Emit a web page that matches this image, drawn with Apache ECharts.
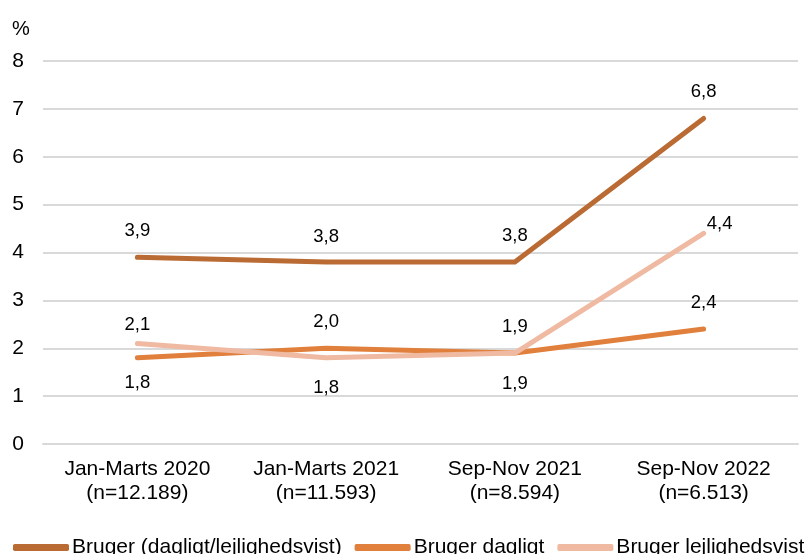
<!DOCTYPE html>
<html>
<head>
<meta charset="utf-8">
<script src="https://cdn.jsdelivr.net/npm/echarts@6/dist/echarts.min.js"></script>
<style>
  html, body { margin: 0; padding: 0; background: #fff; }
  #main { width: 812px; height: 554px; }
</style>
</head>
<body>
<div id="main"></div>
<script>
    var categories = ['Jan-Marts 2020\n(n=12.189)', 'Jan-Marts 2021\n(n=11.593)', 'Sep-Nov 2021\n(n=8.594)', 'Sep-Nov 2022\n(n=6.513)'];
    var seriesNames = ['Bruger (dagligt/lejlighedsvist)', 'Bruger dagligt', 'Bruger lejlighedsvist'];
    var brugerAlle = [3.9, 3.8, 3.8, 6.8];
    var brugerDagligt = [1.8, 2.0, 1.9, 2.4];
    var brugerLejlighedsvist = [2.1, 1.8, 1.9, 4.4];

    // label placering pr. punkt: [position, distance, offsetX]
    var placeAlle = [['top', 17, 0], ['top', 16, 0], ['top', 17, 0], ['top', 17, 0]];
    var placeDagligt = [['bottom', 16, 0], ['top', 17, 0], ['bottom', 21, 0], ['top', 17, 0]];
    var placeLejl = [['top', 9, 0], ['bottom', 21, 0], ['top', 17, 0], ['top', 0, 16]];

    function makeData(values, place) {
        var out = [];
        for (var i = 0; i < values.length; i++) {
            out.push({
                value: values[i],
                label: { position: place[i][0], distance: place[i][1], offset: [place[i][2], 0] }
            });
        }
        return out;
    }

    function makeSeries(name, values, place, color, z) {
        return {
            name: name,
            type: 'line',
            data: makeData(values, place),
            showSymbol: true,
            symbol: 'circle',
            symbolSize: 0.1,
            z: z,
            lineStyle: { color: color, width: 5, cap: 'round', join: 'round' },
            itemStyle: { color: color },
            label: {
                show: true,
                color: '#000',
                fontSize: 18.5,
                fontFamily: 'Liberation Sans, Arial, sans-serif',
                formatter: function (p) { return p.value.toFixed(1).replace('.', ','); }
            }
        };
    }

    var myChart = echarts.init(document.getElementById('main'));
    myChart.setOption({
        animation: false,
        textStyle: { fontFamily: 'Liberation Sans, Arial, sans-serif' },
        title: {
            text: '%',
            left: 7,
            top: 14,
            textStyle: { fontSize: 20, fontWeight: 'normal', color: '#000', fontFamily: 'Liberation Sans, Arial, sans-serif' }
        },
        grid: { left: 43, right: 14, top: 61, bottom: 110 },
        legend: {
            data: seriesNames,
            left: 8,
            top: 532,
            width: 1200,
            itemWidth: 56,
            itemHeight: 7,
            itemGap: 13,
            icon: 'roundRect',
            textStyle: { fontSize: 21, color: '#000', padding: [0, 0, 0, -2] }
        },
        xAxis: {
            type: 'category',
            data: categories,
            boundaryGap: true,
            axisLine: { lineStyle: { color: '#d9d9d9', width: 2 } },
            axisTick: { show: false },
            axisLabel: { color: '#000', fontSize: 21, lineHeight: 24, margin: 13, interval: 0 }
        },
        yAxis: {
            type: 'value',
            min: 0,
            max: 8,
            interval: 1,
            axisLine: { show: false },
            axisTick: { show: false },
            axisLabel: { color: '#000', fontSize: 21, margin: 19 },
            splitLine: { lineStyle: { color: '#d9d9d9', width: 2 } }
        },
        series: [
            makeSeries(seriesNames[0], brugerAlle, placeAlle, '#ba6a33', 3),
            makeSeries(seriesNames[1], brugerDagligt, placeDagligt, '#e0803c', 2),
            makeSeries(seriesNames[2], brugerLejlighedsvist, placeLejl, '#efb9a2', 4)
        ]
    });
</script>
</body>
</html>
